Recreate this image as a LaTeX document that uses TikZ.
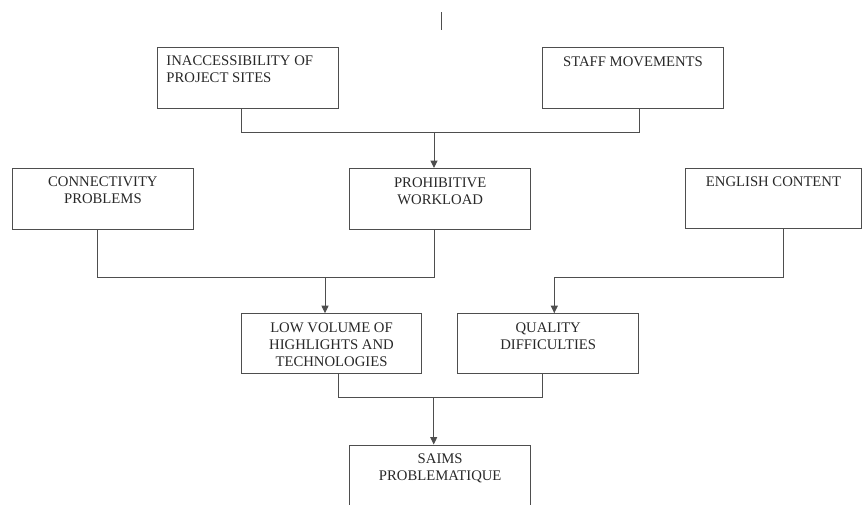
\documentclass[tikz,border=0pt]{standalone}
\usepackage{fontspec}
\setmainfont{Liberation Serif}
\usetikzlibrary{arrows.meta}
\definecolor{linec}{RGB}{78,78,78}
\definecolor{textc}{RGB}{40,40,40}
\begin{document}
\begin{tikzpicture}[x=1pt,y=-1pt,
  box/.style={draw=linec, line width=1pt, inner sep=0pt, minimum width=181pt, minimum height=60.5pt},
  lbl/.style={inner sep=0pt, text=textc, font=\fontsize{14.7}{17}\selectfont, align=center},
  conn/.style={draw=linec, line width=1pt},
  arr/.style={conn, -{Triangle[length=7.5pt,width=7pt]}}]
\useasboundingbox (0,0) rectangle (862,504);

% boxes
\node[box] (A) at (247.75,77.75) {};
\node[box] (B) at (633,78) {};
\node[box] (C) at (102.9,198.75) {};
\node[box] (D) at (440.2,198.75) {};
\node[box, minimum width=175.6pt] (E) at (773.5,198.5) {};
\node[box, minimum width=180.4pt, minimum height=59.6pt] (F) at (331.5,343.5) {};
\node[box, minimum height=59.6pt] (G) at (548.2,343.5) {};
\node[box, minimum height=61pt] (H) at (440.2,475.5) {};

% labels
\node[lbl, anchor=north west, align=left] (At) at ([xshift=9.5pt,yshift=-9pt]A.north west) {INACCESSIBILITY OF\\PROJECT SITES};
\node[lbl, anchor=north] (Bt) at ([yshift=-9pt]B.north) {STAFF MOVEMENTS};
\node[lbl, anchor=north] (Ct) at ([yshift=-9pt]C.north) {CONNECTIVITY\\PROBLEMS};
\node[lbl, anchor=north] (Dt) at ([yshift=-9.5pt]D.north) {PROHIBITIVE\\WORKLOAD};
\node[lbl, anchor=north] (Et) at ([yshift=-9pt]E.north) {ENGLISH CONTENT};
\node[lbl, anchor=north] (Ft) at ([yshift=-9pt]F.north) {LOW VOLUME OF\\HIGHLIGHTS AND\\TECHNOLOGIES};
\node[lbl, anchor=north] (Gt) at ([yshift=-9pt]G.north) {QUALITY\\DIFFICULTIES};
\node[lbl, anchor=north] (Ht) at ([yshift=-9pt]H.north) {SAIMS\\PROBLEMATIQUE};

% connector feet under the boxes
\coordinate (As) at ([xshift=-6pt]A.south);
\coordinate (Bs) at ([xshift=6pt]B.south);
\coordinate (Cs) at ([xshift=-5.6pt]C.south);
\coordinate (Ds) at ([xshift=-6pt]D.south);
\coordinate (Es) at ([xshift=9.5pt]E.south);
\coordinate (Fs) at ([xshift=6.5pt]F.south);
\coordinate (Gs) at ([xshift=-5.5pt]G.south);

% junctions
\coordinate (j1) at (434,132.7);
\coordinate (j2) at (325,277.7);
\coordinate (j3) at (554.3,277);
\coordinate (j4) at (433.7,397);

% connectors
\draw[conn] (As) |- (Bs |- j1) -- (Bs);
\draw[arr] (j1) -- (j1 |- D.north);
\draw[conn] (Cs) |- (Ds |- j2) -- (Ds);
\draw[arr] (j2) -- (j2 |- F.north);
\draw[arr] (Es) |- (j3) -- (j3 |- G.north);
\draw[conn] (Fs) |- (Gs |- j4) -- (Gs);
\draw[arr] (j4) -- (j4 |- H.north);

% short stroke at the top
\coordinate (m1) at (441.7,12);
\coordinate (m2) at (441.7,30);
\draw[conn] (m1) -- (m2);
\end{tikzpicture}
\end{document}
